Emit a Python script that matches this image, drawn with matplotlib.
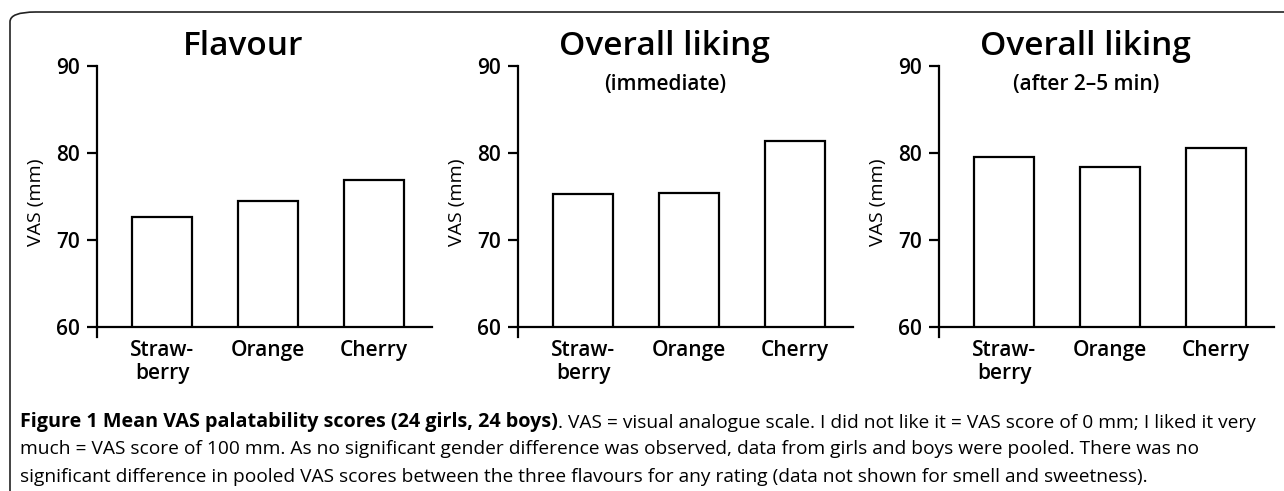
import matplotlib.pyplot as plt
from matplotlib.patches import FancyBboxPatch

plt.rcParams['font.family'] = ['Open Sans', 'DejaVu Sans']

# data
flavours = ['Straw-\nberry', 'Orange', 'Cherry']
flavour_scores = [72.7, 74.5, 76.9]
liking_immediate = [75.3, 75.5, 81.4]
liking_later = [79.6, 78.5, 80.6]

titles = ['Flavour', 'Overall liking', 'Overall liking']
subtitles = ['', '(immediate)', '(after 2\u20135 min)']
yticks = [60, 70, 80, 90]

fig = plt.figure(figsize=(12.84, 4.91), dpi=100)

# rounded frame around the whole figure
frame = FancyBboxPatch((10 / 1284, -0.2), 1.2, 1.2 - 12 / 491,
                       boxstyle='round,pad=0,rounding_size=0.02',
                       transform=fig.transFigure, fill=False,
                       edgecolor='#222222', linewidth=1.2)
fig.patches.append(frame)

lefts = [97 / 1284, 518 / 1284, 939 / 1284]
series = [flavour_scores, liking_immediate, liking_later]

for left, vals, title, sub in zip(lefts, series, titles, subtitles):
    ax = fig.add_axes([left, 0.333, 335 / 1284, 0.5316])
    x = range(len(flavours))
    ax.bar(x, vals, width=0.567, color='white', edgecolor='black', linewidth=1.6)
    ax.set_ylim(60, 90)
    ax.set_xlim(-0.615, 2.553)
    ax.set_yticks(yticks)
    ax.set_yticklabels([str(t) for t in yticks], fontsize=15, fontweight='semibold')
    ax.set_xticks(list(x))
    ax.set_xticklabels(flavours, fontsize=15, fontweight='semibold', linespacing=1.1)
    ax.tick_params(axis='x', length=0, pad=9)
    ax.tick_params(axis='y', length=7, width=1.6, pad=5)
    for s in ['top', 'right']:
        ax.spines[s].set_visible(False)
    ax.spines['left'].set_linewidth(1.6)
    ax.spines['bottom'].set_linewidth(1.6)
    ax.spines['left'].set_bounds(58.9, 90)
    ax.set_ylabel('VAS (mm)', fontsize=14)
    ax.yaxis.set_label_coords(-0.155, 0.479)
    ax.text(0.436, 1.044, title, transform=ax.transAxes, ha='center',
            va='baseline', fontsize=24, fontweight='semibold')
    if sub:
        ax.text(0.44, 0.91, sub, transform=ax.transAxes, ha='center',
                va='baseline', fontsize=15, fontweight='semibold')

# caption
cap_size = 13.8
bold = fig.text(20 / 1284, 1 - 427 / 491,
                'Figure 1 Mean VAS palatability scores (24 girls, 24 boys)',
                fontsize=14.2, fontweight='bold', va='baseline')
plt.annotate('. VAS = visual analogue scale. I did not like it = VAS score of 0 mm; I liked it very',
             xy=(1, 0), xycoords=bold, va='bottom', ha='left',
             fontsize=cap_size, annotation_clip=False)
fig.text(20 / 1284, 1 - 454.5 / 491,
         'much = VAS score of 100 mm. As no significant gender difference was observed, data from girls and boys were pooled. There was no',
         fontsize=cap_size, va='baseline')
fig.text(20 / 1284, 1 - 482 / 491,
         'significant difference in pooled VAS scores between the three flavours for any rating (data not shown for smell and sweetness).',
         fontsize=cap_size, va='baseline')

fig.savefig('out.png', dpi=100)
